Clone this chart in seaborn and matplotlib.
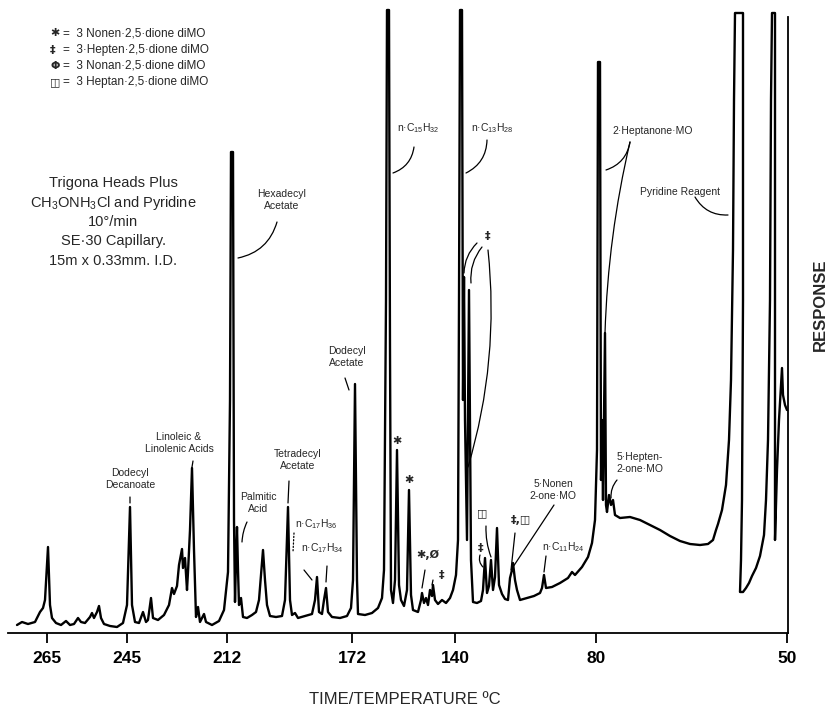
import matplotlib
matplotlib.use("Agg")
import pandas as pd
import matplotlib.pyplot as plt
import seaborn as sns

# ---------- Setup ----------
sns.set_theme(style="white")
plt.rcParams["font.family"] = ["Liberation Sans", "DejaVu Sans"]
plt.rcParams["mathtext.default"] = "regular"

# ---------- Detector trace (retention position, response) ----------
retention = [
    17, 22, 28, 35, 40, 43, 45, 48, 50, 52, 56, 61, 66, 70, 74, 78, 81, 85, 90, 92,
    94, 97, 99, 101, 104, 110, 117, 123, 127, 130, 132, 135, 139, 143, 146, 148, 151, 153, 158, 164,
    169, 172, 174, 177, 179, 182, 183, 185, 187, 188, 190, 192, 194, 196, 198, 200, 204, 206, 212, 219,
    224, 228, 230, 231, 233, 234, 235, 236, 237, 238, 239, 241, 243, 247, 252, 256, 259, 261, 263, 265,
    267, 270, 276, 282, 285, 288, 290, 292, 295, 298, 305, 312, 315, 317, 319, 322, 324, 326, 328, 332,
    340, 347, 351, 353, 355, 357, 358, 365, 372, 378, 382, 384, 386, 387, 389, 390, 391, 393, 395, 397,
    399, 401, 404, 407, 409, 411, 413, 418, 421, 422, 424, 426, 428, 430, 432, 433, 435, 438, 442, 446,
    450, 453, 456, 458, 459, 460, 462, 463, 464, 465, 467, 469, 471, 473, 477, 481, 483, 485, 487, 489,
    491, 493, 495, 497, 499, 502, 505, 508, 510, 512, 513, 515, 517, 520, 527, 534, 540, 542, 544, 546,
    552, 560, 568, 572, 575, 582, 588, 592, 595, 597, 598, 600, 601, 602, 603, 605, 606, 607, 609, 611,
    613, 615, 620, 630, 640, 650, 660, 670, 680, 690, 700, 708, 713, 716, 718, 722, 726, 729, 731, 733,
    734, 735, 743, 743, 742, 741, 740, 743, 746, 749, 752, 756, 760, 764, 766, 768, 770, 771, 772, 775,
    775, 775, 777, 779, 782, 783, 785, 787,
]
response = [
    8, 11, 9, 11, 21, 25, 33, 86, 28, 15, 10, 8, 12, 8, 9, 15, 11, 10, 16, 20,
    15, 21, 27, 15, 9, 7, 6, 10, 28, 126, 28, 11, 10, 21, 11, 13, 35, 15, 13, 18,
    28, 45, 39, 47, 68, 84, 65, 75, 43, 61, 103, 165, 83, 16, 26, 11, 19, 11, 8, 12,
    23, 61, 233, 481, 481, 113, 31, 73, 106, 63, 28, 35, 16, 15, 18, 21, 33, 58, 83, 53,
    28, 17, 16, 17, 33, 126, 33, 18, 20, 15, 17, 19, 33, 56, 21, 19, 33, 45, 21, 16,
    15, 17, 25, 53, 249, 53, 19, 18, 20, 25, 35, 63, 333, 623, 623, 283, 43, 30, 53, 183,
    48, 33, 27, 43, 143, 38, 23, 21, 33, 40, 30, 35, 28, 43, 37, 48, 33, 29, 33, 30,
    35, 43, 58, 93, 333, 623, 623, 233, 356, 213, 93, 343, 73, 31, 30, 32, 43, 75, 40, 47,
    73, 43, 56, 105, 48, 39, 34, 33, 55, 63, 70, 53, 43, 33, 35, 37, 40, 45, 58, 45,
    46, 50, 55, 61, 58, 66, 76, 90, 113, 183, 571, 571, 153, 213, 133, 300, 128, 121, 138, 128,
    133, 118, 115, 116, 113, 108, 103, 97, 92, 89, 88, 89, 93, 103, 109, 123, 148, 193, 253, 383,
    533, 620, 620, 333, 133, 73, 41, 41, 45, 50, 57, 65, 77, 98, 133, 193, 333, 533, 620, 620,
    333, 93, 163, 213, 265, 238, 228, 223,
]

tick_pos = [47, 127, 227, 352, 455, 596, 787]
tick_labels = ["265", "245", "212", "172", "140", "80", "50"]

legend_symbols = ["✱", "‡", "Φ", "◫"]
legend_names = [
    "3 Nonen·2,5·dione diMO",
    "3·Hepten·2,5·dione diMO",
    "3 Nonan·2,5·dione diMO",
    "3 Heptan·2,5·dione diMO",
]

conditions = [
    "Trigona Heads Plus",
    "CH$_3$ONH$_3$Cl and Pyridine",
    "10°/min",
    "SE·30 Capillary.",
    "15m x 0.33mm. I.D.",
]

trace = pd.DataFrame({"retention": retention, "response": response})

# ---------- Figure ----------
W, H, BASE = 830, 713, 633
fig = plt.figure(figsize=(W / 100, H / 100), dpi=100)
ax = fig.add_axes([8 / W, (H - BASE) / H, 780 / W, BASE / H])

sns.lineplot(data=trace, x="retention", y="response", sort=False, estimator=None,
             color="black", linewidth=1.7, ax=ax, legend=False)
ax.lines[0].set_solid_joinstyle("round")

ax.set_xlim(8, 788)
ax.set_ylim(0, BASE)
for s in ["left", "top"]:
    ax.spines[s].set_visible(False)
for s in ["bottom", "right"]:
    ax.spines[s].set_color("black")
    ax.spines[s].set_linewidth(1.3)
ax.spines["right"].set_bounds(0, 616)
ax.set_yticks([])
ax.set_xticks(tick_pos)
ax.set_xticklabels(tick_labels)
ax.tick_params(axis="x", direction="out", length=7, width=1.3, pad=6, bottom=True,
               colors="black", labelsize=12.5)
for t in ax.get_xticklabels():
    t.set_fontweight("bold")
    t.set_fontstretch("condensed")
ax.set_xlabel("")
ax.set_ylabel("")


def P(px, py):
    return px, BASE - py


# legend of symbols (top left)
for i, (sym, name) in enumerate(zip(legend_symbols, legend_names)):
    y = 33 + i * 16.5
    ax.text(*P(50, y), sym, fontsize=8, ha="left", va="center",
            family=["DejaVu Sans"], fontweight="bold")
    ax.text(*P(63, y), "=  " + name, fontsize=8.5, ha="left", va="center")

# run conditions
for i, line in enumerate(conditions):
    ax.text(*P(113, 183 + i * 19.5), line, fontsize=10.5, ha="center", va="center")

# peak labels
peak_labels = [
    ("Hexadecyl\nAcetate", 282, 200),
    ("Dodecyl\nAcetate", 347, 357),
    ("Linoleic &\nLinolenic Acids", 179, 443),
    ("Dodecyl\nDecanoate", 130, 479),
    ("Palmitic\nAcid", 258, 503),
    ("Tetradecyl\nAcetate", 298, 460),
    ("n·C$_{17}$H$_{36}$", 316, 524),
    ("n·C$_{17}$H$_{34}$", 322, 548),
    ("n·C$_{15}$H$_{32}$", 418, 128),
    ("n·C$_{13}$H$_{28}$", 492, 128),
    ("2·Heptanone·MO", 653, 131),
    ("Pyridine Reagent", 680, 192),
    ("5·Hepten-\n2-one·MO", 640, 463),
    ("5·Nonen\n2-one·MO", 553, 490),
    ("n·C$_{11}$H$_{24}$", 563, 547),
]
for txt, px, py in peak_labels:
    ax.text(*P(px, py), txt, fontsize=7.5, ha="center", va="center", linespacing=1.25)

marks = [
    ("✱", 397, 441), ("✱", 409, 480), ("‡", 488, 236), ("‡,◫", 521, 520),
    ("◫", 482, 513), ("‡", 481, 548), ("✱,Ø", 428, 555), ("‡", 442, 575),
]
for txt, px, py in marks:
    ax.text(*P(px, py), txt, fontsize=8, ha="center", va="center",
            family=["DejaVu Sans"], fontweight="bold")

# leader lines
leaders = [
    (277, 222, 238, 258, -0.3), (414, 147, 393, 173, -0.3), (487, 140, 466, 173, -0.3),
    (630, 142, 606, 170, -0.3), (630, 142, 605, 333, 0.05), (695, 197, 728, 215, 0.3),
    (345, 378, 349, 390, 0), (193, 461, 192, 467, 0), (130, 497, 130, 503, 0),
    (247, 522, 242, 542, 0.1), (289, 481, 288, 503, 0), (304, 570, 312, 580, 0),
    (327, 566, 326, 582, 0), (477, 243, 464, 273, 0.2), (482, 247, 471, 283, 0.2),
    (488, 250, 468, 467, -0.1), (486, 526, 491, 557, 0.1), (480, 555, 483, 567, 0.3),
    (515, 533, 511, 570, 0), (554, 505, 513, 567, 0), (546, 556, 544, 572, 0),
    (425, 570, 422, 588, 0), (433, 580, 432, 585, 0), (617, 480, 611, 498, 0.2),
]
for x0, y0, x1, y1, rad in leaders:
    ax.annotate("", xy=P(x1, y1), xytext=P(x0, y0),
                arrowprops=dict(arrowstyle="-", color="black", lw=0.9, shrinkA=0, shrinkB=0,
                                connectionstyle=f"arc3,rad={rad}"))
ax.annotate("", xy=P(293, 552), xytext=P(294, 533),
            arrowprops=dict(arrowstyle="-", color="black", lw=0.9, ls=":", shrinkA=0, shrinkB=0))

# axis titles
fig.text(405 / W, 1 - 700 / H, "TIME/TEMPERATURE ºC", fontsize=12, ha="center", va="center",
         fontstretch="condensed")
fig.text(820 / W, 1 - 305 / H, "RESPONSE", fontsize=12, fontweight="bold", rotation=90,
         ha="center", va="center")

fig.savefig("out.png", dpi=100, facecolor="white")
